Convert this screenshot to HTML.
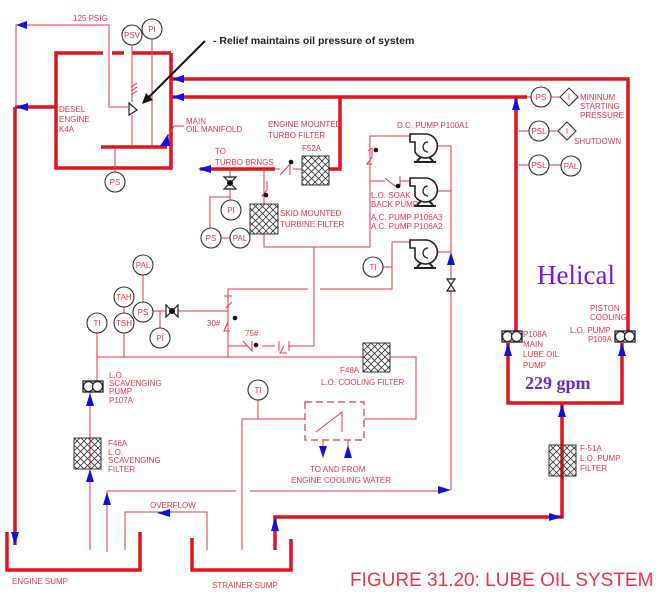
<!DOCTYPE html>
<html><head><meta charset="utf-8"><style>
html,body{margin:0;padding:0;background:#fff;}
svg{display:block;}
text{font-family:"Liberation Sans",sans-serif;font-size:8px;fill:#e8344a;}
</style></head><body>
<svg width="666" height="607" viewBox="0 0 666 607" xmlns="http://www.w3.org/2000/svg">
<defs>
<pattern id="hx" width="7" height="7" patternUnits="userSpaceOnUse">
<path d="M0,0L7,7M7,0L0,7" stroke="#333" stroke-width="0.8"/>
</pattern>
<g id="pump">
<path d="M-13,-13 L2,-13 A12,12 0 1 1 -8,5 L-8,-5 L-13,-5 Z" fill="#fff" stroke="#222" stroke-width="1.6"/>
<path d="M5,-5 A5,5 0 1 0 5,5" fill="none" stroke="#222" stroke-width="1.3"/>
<path d="M-6,14 L-2,10 M10,14 L6,10 M-9,15 L13,15" stroke="#222" stroke-width="2"/>
</g>
<g id="ppump">
<rect x="0" y="0" width="20" height="11" fill="#fff" stroke="#222" stroke-width="1.3"/>
<circle cx="5.5" cy="5.5" r="5" fill="#fff" stroke="#222" stroke-width="1.3"/>
<circle cx="14.5" cy="5.5" r="5" fill="#fff" stroke="#222" stroke-width="1.3"/>
</g>
</defs>

<g fill="none" stroke="#e0141e" stroke-width="3.5">
<path d="M171,53 L171,168 L56,168 L56,53 L103,53 M112,53 L124,53 M132,53 L171,53"/>
<path d="M101,147 L167,147"/>
<path d="M15,107 L56,107 M15,107 L15,545"/>
<path d="M172,79 L628,79 L628,340"/>
<path d="M172,97 L527,97 M340,97 L340,169 L329,169"/>
<path d="M516,97 L516,335"/>
<path d="M508,343 L508,403 L622,403 L622,343"/>
<path d="M562,403 L562,517 L275,517 L275,550"/>
<path d="M200,169 L275,169"/>
<path d="M7,532 L7,570 L140,570 L140,532"/>
<path d="M192,538 L192,570 L291,570 L291,539"/>
</g>

<g fill="none" stroke="#e8344a" stroke-width="1">
<path d="M16,107 L16,25 L109,25 L109,107 L128,107"/>
<path d="M132,45 L132,102 M132,115 L132,147 M152,39 L152,146 M115,147 L115,172"/>
<path d="M163,145 L174,126 L184,126"/>
<path d="M527,97 L531,97 M551,97 L560,97 M516,131 L529,131 M549,131 L559,131 M516,165 L529,165 M549,165 L561,165"/>
<path d="M275,169 L280,169 M293,169 L302,169 M230,169 L230,200 M230,197 L210,197 L210,228 M221,238 L230,238"/>
<path d="M264,169 L264,204 M264,234 L264,247 L370,247 L370,136 L410,136 M370,181 L385,181 M400,181 L410,181"/>
<path d="M314,247 L314,346 L288,346 M275,346 L262,346 M248,346 L228,346"/>
<path d="M392,242 L410,242 M392,242 L392,289 L320,289 M308,289 L228,289 L228,357 M383,267 L392,267"/>
<path d="M436,146 L451,146 L451,490 M436,191 L451,191 M436,252 L451,252"/>
<path d="M155,311 L228,311 M143,302 L143,275 M152,311 L165,311 M160,311 L160,328 M124,307 L124,313 M124,333 L124,357 M97,333 L97,381 M97,357 L363,357 M390,357 L416,357 L416,419 L364,419 M305,419 L242,419 L242,550 M258,400 L258,419"/>
<path d="M90,392 L90,550 M107,491 L236,491 M250,491 L440,491 M107,491 L107,552"/>
<path d="M125,550 L125,512 L207,512 L207,550"/>
<path d="M323,440 L323,448 M348,440 L348,458"/>
<path d="M316,432 L342,412 L342,432" />
</g>

<rect x="305" y="402" width="59" height="38" fill="none" stroke="#e8344a" stroke-width="1.2" stroke-dasharray="7,4"/>

<g stroke="#333" stroke-width="1">
<rect x="302" y="156" width="27" height="29" fill="url(#hx)"/>
<rect x="250" y="204" width="28" height="30" fill="url(#hx)"/>
<rect x="363" y="343" width="27" height="29" fill="url(#hx)"/>
<rect x="74" y="438" width="27" height="31" fill="url(#hx)"/>
<rect x="549" y="445" width="27" height="31" fill="url(#hx)"/>
</g>

<use href="#pump" x="423" y="147"/>
<use href="#pump" x="423" y="191"/>
<use href="#pump" x="423" y="253"/>
<use href="#ppump" x="83" y="381"/>
<use href="#ppump" x="502" y="331"/>
<use href="#ppump" x="615" y="331"/>

<g stroke="#222" stroke-width="1.2" fill="#fff">
<path d="M224,177 L236,177 L224,189 L236,189 Z"/>
<path d="M166,305 L166,317 L178,305 L178,317 Z"/>
<path d="M447,279 L455,279 L447,291 L455,291 Z"/>
<path d="M129,103 L129,115 L137,110 Z"/>
</g>
<circle cx="230" cy="183" r="3" fill="#111"/><circle cx="172" cy="311" r="3" fill="#111"/>
<g stroke="#e8344a" stroke-width="1" fill="none">
<path d="M131,95 L137,91 M131,91 L137,87 M131,87 L137,83"/>
<path d="M280,175 L290,164 L290,175"/>
<path d="M267,181 L267,190 L262,196 L268,196"/>
<path d="M372,148 L372,157 L367,164 L372,164 M368,151 L372,148"/>
<path d="M385,178 L395,186 L400,186 L400,176"/>
<path d="M228,316 L228,322 L224,331 L230,331"/>
<path d="M243,341 L252,351 L252,341"/>
<path d="M279,341 L279,351 M289,341 L289,351 M284,346 L280,353 L287,353"/>
<path d="M228,296 L228,304 M224,296 L232,296 M232,302 L226,308"/>
</g>
<g fill="#111"><circle cx="291" cy="162" r="2.3"/><circle cx="266" cy="195" r="2.3"/><circle cx="376" cy="150" r="2.3"/><circle cx="398" cy="186" r="2.3"/><circle cx="235" cy="318" r="2.3"/><circle cx="256" cy="345" r="2.3"/></g>

<g fill="#fff" stroke="#333" stroke-width="1.1">
<circle cx="132" cy="35" r="10"/><circle cx="152" cy="29" r="10"/><circle cx="115" cy="182" r="10"/>
<circle cx="231" cy="210" r="10"/><circle cx="211" cy="238" r="10"/><circle cx="240" cy="238" r="10"/>
<circle cx="541" cy="97" r="10"/><circle cx="539" cy="131" r="10"/><circle cx="539" cy="165" r="10"/><circle cx="571" cy="166" r="10"/>
<circle cx="373" cy="267" r="10"/>
<circle cx="143" cy="265" r="10"/><circle cx="124" cy="297" r="10"/><circle cx="143" cy="312" r="10"/><circle cx="124" cy="323" r="10"/><circle cx="160" cy="338" r="10"/><circle cx="97" cy="323" r="10"/>
<circle cx="258" cy="390" r="10"/>
<path d="M569,88 L578,97 L569,106 L560,97 Z"/><path d="M567,122 L576,131 L567,140 L558,131 Z"/>
</g>
<g text-anchor="middle" style="font-size:8px">
<text x="132" y="38">PSV</text><text x="152" y="32">PI</text><text x="115" y="185">PS</text>
<text x="231" y="213">PI</text><text x="211" y="241">PS</text><text x="240" y="241">PAL</text>
<text x="541" y="100">PS</text><text x="539" y="134">PSL</text><text x="539" y="168">PSL</text><text x="571" y="169">PAL</text>
<text x="569" y="100">I</text><text x="567" y="134">I</text>
<text x="373" y="270">TI</text><text x="143" y="268">PAL</text><text x="124" y="300">TAH</text><text x="143" y="315">PS</text><text x="124" y="326">TSH</text><text x="160" y="341">PI</text><text x="97" y="326">TI</text><text x="258" y="393">TI</text>
</g>

<g fill="#1010e0">
<path d="M16,25 L27,21 L27,29 Z"/><path d="M16,107 L28,103 L28,111 Z"/>
<path d="M172,79 L184,75 L184,83 Z"/><path d="M172,97 L184,93 L184,101 Z"/>
<path d="M160,146 L168,134 L170,146 Z"/>
<path d="M198,169 L211,165 L211,173 Z"/>
<path d="M516,97 L512,110 L520,110 Z"/><path d="M451,252 L447,265 L455,265 Z"/>
<path d="M451,490 L438,486 L438,494 Z"/>
<path d="M508,343 L504,356 L512,356 Z"/><path d="M622,343 L618,356 L626,356 Z"/>
<path d="M562,404 L558,417 L566,417 Z"/><path d="M562,517 L549,513 L549,521 Z"/>
<path d="M275,517 L271,531 L279,531 Z"/>
<path d="M15,545 L11,532 L19,532 Z"/>
<path d="M90,393 L86,406 L94,406 Z"/><path d="M90,469 L86,482 L94,482 Z"/>
<path d="M107,492 L103,505 L111,505 Z"/>
<path d="M157,513 L170,509 L170,517 Z"/>
<path d="M323,458 L319,446 L327,446 Z"/><path d="M348,445 L344,458 L352,458 Z"/>
</g>

<path d="M205,41 L146,100" stroke="#111" stroke-width="2"/>
<path d="M142,104 L146,93 L153,100 Z" fill="#111"/>
<text x="213" y="44" style="fill:#222;font-weight:bold;font-size:10.5px">- Relief maintains oil pressure of system</text>

<text x="73" y="21">125 PSIG</text>
<text x="59" y="112">DESEL</text><text x="59" y="122">ENGINE</text><text x="59" y="132">K4A</text>
<text x="186" y="124">MAIN</text><text x="186" y="132">OIL MANIFOLD</text>
<text x="268" y="127">ENGINE  MOUNTED</text><text x="268" y="138">TURBO  FILTER</text><text x="302" y="151">F52A</text>
<text x="215" y="154">TO</text><text x="215" y="165">TURBO  BRNGS</text>
<text x="280" y="216">SKID  MOUNTED</text><text x="280" y="227">TURBINE  FILTER</text>
<text x="397" y="128">D.C.  PUMP  P100A1</text>
<text x="371" y="198">L.O.  SOAK</text><text x="371" y="207">BACK  PUMP</text>
<text x="371" y="220">A.C.  PUMP  P106A3</text><text x="371" y="229">A.C.  PUMP  P106A2</text>
<text x="580" y="100">MININUM</text><text x="580" y="109">STARTING</text><text x="580" y="118">PRESSURE</text>
<text x="574" y="144">SHUTDOWN</text>
<text x="207" y="326">30#</text><text x="245" y="336">75#</text>
<text x="109" y="378">L.O.</text><text x="109" y="386">SCAVENGING</text><text x="109" y="394">PUMP</text><text x="109" y="403">P107A</text>
<text x="108" y="446">F46A</text><text x="108" y="455">L.O.</text><text x="108" y="463">SCAVENGING</text><text x="108" y="472">FILTER</text>
<text x="340" y="373">F48A</text><text x="321" y="385">L.O.  COOLING  FILTER</text>
<text x="310" y="472">TO AND FROM</text><text x="291" y="483">ENGINE  COOLING  WATER</text>
<text x="150" y="508">OVERFLOW</text>
<text x="523" y="337">P108A</text><text x="523" y="347">MAIN</text><text x="523" y="357">LUBE  OIL</text><text x="523" y="368">PUMP</text>
<text x="590" y="311">PISTON</text><text x="590" y="320">COOLING</text><text x="570" y="333">L.O.  PUMP</text><text x="588" y="342">P109A</text>
<text x="580" y="451">F-51A</text><text x="580" y="461">L.O.  PUMP</text><text x="580" y="471">FILTER</text>
<text x="12" y="584">ENGINE   SUMP</text><text x="212" y="588">STRAINER   SUMP</text>
<text x="350" y="586" style="font-size:19px">FIGURE 31.20:  LUBE OIL SYSTEM</text>
<text x="537" y="284" style="font-family:'Liberation Serif',serif;font-size:27px;fill:#7a1ad0">Helical</text>
<text x="525" y="389" style="font-family:'Liberation Serif',serif;font-size:18px;font-weight:bold;fill:#6a2ad0">229 gpm</text>
</svg>
</body></html>
